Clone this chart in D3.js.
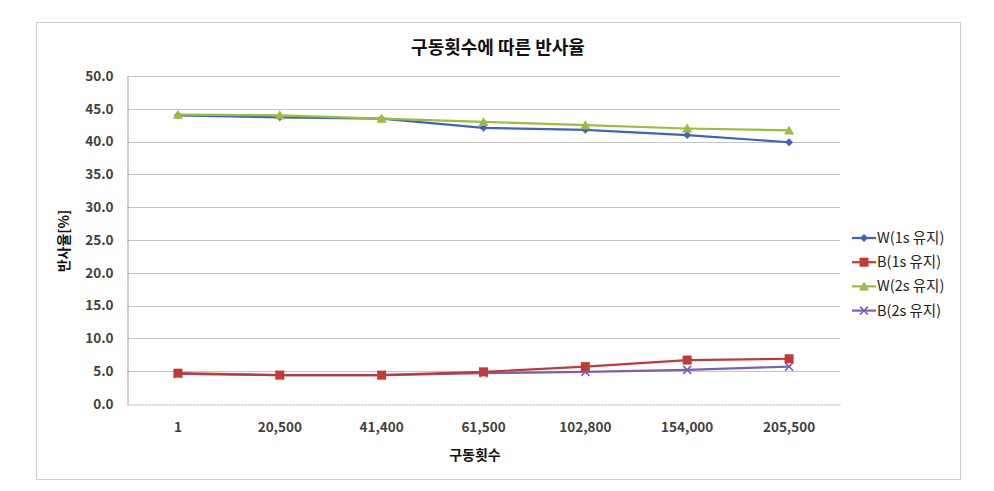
<!DOCTYPE html>
<html><head><meta charset="utf-8">
<script src="https://cdn.jsdelivr.net/npm/d3@7"></script>
<style>
body{margin:0;background:#fff;}
text{font-family:"Noto Sans CJK KR","Noto Sans",sans-serif;}
</style></head>
<body><svg id="c" width="994" height="491"></svg>
<script>
const categories = ["1","20,500","41,400","61,500","102,800","154,000","205,500"];
const seriesNames = ["W(1s 유지)","B(1s 유지)","W(2s 유지)","B(2s 유지)"];
const w1 = [44.0, 43.7, 43.5, 42.1, 41.8, 41.0, 39.9];
const b1 = [4.7, 4.4, 4.4, 4.9, 5.7, 6.7, 6.9];
const w2 = [44.1, 44.0, 43.5, 43.0, 42.5, 42.0, 41.7];
const b2 = [4.6, 4.4, 4.4, 4.7, 4.9, 5.2, 5.7];
const yTicks = [0,5,10,15,20,25,30,35,40,45,50];
const title = "구동횟수에 따른 반사율";
const xTitle = "구동횟수";
const yTitle = "반사율[%]";

const colors = ["#3b63c4","#c23a35","#9cbc3c","#7b5fb0"];
const markers = ["diamond","square","triangle","x"];
const data = [w1,b1,w2,b2];

const svg = d3.select("#c");
svg.append("rect").attr("x",36.5).attr("y",22.5).attr("width",924).attr("height",457)
  .attr("fill","#fff").attr("stroke","#9a9a9a").attr("stroke-dasharray","1,1");

const L=127, R=840, T=76, B=404;
const x = d3.scaleBand().domain(categories).range([L,R]);
const y = d3.scaleLinear().domain([0,50]).range([B,T]);

// gridlines
svg.append("g").selectAll("line").data(yTicks.filter(d=>d>0)).join("line")
  .attr("x1",L).attr("x2",R).attr("y1",d=>Math.round(y(d))+0.5).attr("y2",d=>Math.round(y(d))+0.5)
  .attr("stroke","#c4c4c4").attr("stroke-width",1);

// y axis
const ya = svg.append("g").attr("transform",`translate(${L+0.5},0)`)
  .call(d3.axisLeft(y).tickValues(yTicks).tickFormat(d3.format(".1f")).tickSize(0).tickPadding(14));
ya.select(".domain").attr("stroke","#a0a0a0");
ya.selectAll("text").attr("font-size",13.5).attr("font-weight","bold").attr("fill","#404040");

// x axis
const xa = svg.append("g").attr("transform",`translate(0,${B+0.5})`)
  .call(d3.axisBottom(x).tickSize(0).tickPadding(18));
xa.select(".domain").attr("stroke","#a8a8a8").attr("stroke-dasharray","2,1");
xa.selectAll("text").attr("font-size",13.5).attr("font-weight","bold").attr("fill","#404040");

const cx = i => x(categories[i]) + x.bandwidth()/2;
const line = d3.line().x((d,i)=>cx(i)).y(d=>y(d));

function drawMarker(g, type, px, py, color){
  if(type==="diamond"){
    g.append("path").attr("d",`M${px},${py-4}L${px+4},${py}L${px},${py+4}L${px-4},${py}Z`).attr("fill",color);
  } else if(type==="square"){
    g.append("rect").attr("x",px-4.5).attr("y",py-4.5).attr("width",9).attr("height",9).attr("fill",color);
  } else if(type==="triangle"){
    g.append("path").attr("d",`M${px},${py-5}L${px+5},${py+4}L${px-5},${py+4}Z`).attr("fill",color);
  } else {
    g.append("path").attr("d",`M${px-4},${py-4}L${px+4},${py+4}M${px-4},${py+4}L${px+4},${py-4}`)
      .attr("stroke",color).attr("stroke-width",1.5);
  }
}

const order = [3,1,0,2];
order.forEach(s=>{
  const g = svg.append("g");
  g.append("path").datum(data[s]).attr("d",line).attr("fill","none")
    .attr("stroke",colors[s]).attr("stroke-width",2.2);
  data[s].forEach((v,i)=>drawMarker(g, markers[s], cx(i), y(v), colors[s]));
});

// titles
svg.append("text").attr("x",498).attr("y",54).attr("text-anchor","middle")
  .attr("font-size",18).attr("font-weight","bold").attr("fill","#111").text(title);
svg.append("text").attr("x",475).attr("y",460).attr("text-anchor","middle")
  .attr("font-size",14).attr("font-weight","bold").attr("fill","#111").text(xTitle);
svg.append("text").attr("transform","translate(69,241) rotate(-90)").attr("text-anchor","middle")
  .attr("font-size",14).attr("font-weight","bold").attr("fill","#111").text(yTitle);

// legend
const lg = svg.append("g");
seriesNames.forEach((n,i)=>{
  const ly = 238 + i*24.2;
  lg.append("line").attr("x1",852).attr("x2",876).attr("y1",ly).attr("y2",ly)
    .attr("stroke",colors[i]).attr("stroke-width",2.2);
  drawMarker(lg, markers[i], 864, ly, colors[i]);
  lg.append("text").attr("x",877).attr("y",ly+5).attr("font-size",14.5)
    .attr("fill","#222").text(n);
});
</script></body></html>
